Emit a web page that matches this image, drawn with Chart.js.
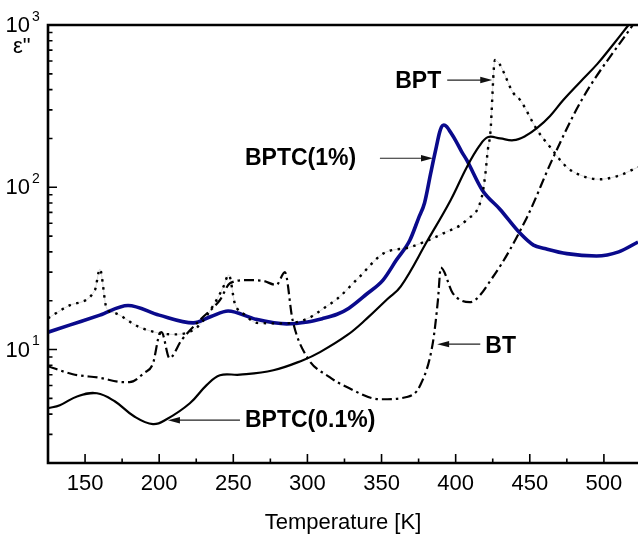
<!DOCTYPE html>
<html>
<head>
<meta charset="utf-8">
<script src="https://cdn.jsdelivr.net/npm/chart.js@4/dist/chart.umd.min.js"></script>
<style>
  html, body { margin: 0; padding: 0; background: #fff; overflow: hidden; }
  #wrap { width: 638px; height: 537px; }
</style>
</head>
<body>
<div id="wrap"><canvas id="epsChart" width="638" height="537"></canvas></div>
<script>
// --- data (temperature in K, eps'' on log scale) ---
const bptc1T   = [125, 140, 160, 179, 200, 223, 235, 246.5, 265, 286, 300, 310, 320, 328, 340, 351, 360, 369, 375, 379, 383, 385, 387, 389, 390.5, 392, 394, 397, 400, 404, 407.5, 418, 430, 443.5, 452.5, 460, 475, 495, 510, 523];
const bptc1Eps = [12.8, 14.2, 16.3, 18.7, 16.3, 14.6, 16, 17.3, 15.4, 14.4, 14.8, 15.5, 16.5, 18, 22, 26.8, 35.6, 47, 64.6, 80, 120, 147, 178, 215, 236, 242, 236, 215, 194, 166, 147, 96, 73, 52, 44, 42, 39, 37.7, 40, 46];

const bptc01T   = [125, 133, 145, 158, 170, 183, 195.8, 205, 220.7, 232, 241, 254.5, 277, 297, 308.5, 327, 340, 354, 363, 381, 396.5, 407.5, 416, 422, 430, 439, 447, 455, 463.7, 472.6, 484, 495.6, 506, 516.6];
const bptc01Eps = [4.35, 4.54, 5.16, 5.38, 4.8, 3.88, 3.47, 3.72, 4.67, 6.04, 6.95, 7.0, 7.46, 8.6, 9.64, 12.3, 15.5, 20.5, 24.5, 47, 83, 133, 180, 204, 200, 195, 207, 232, 275, 345, 446, 576, 753, 1000];

const bptT   = [125, 140, 156.6, 160, 164.5, 170, 187, 209, 225.5, 237, 243, 247, 251, 258, 266, 285, 300, 313, 320, 335, 351, 369.4, 391.6, 407.5, 417.6, 420, 421.7, 423.4, 426.5, 439, 443.5, 455, 463.7, 475, 485, 497, 510, 523];
const bptEps = [15.6, 18.8, 23.2, 31.3, 18, 16.8, 13.7, 12.4, 13.7, 19, 24, 28.8, 19.3, 16.3, 14.6, 14.5, 15.5, 18.5, 20.5, 28, 39, 42.8, 52, 63, 87, 120, 170, 216, 608, 380, 345, 225, 177, 133, 118, 112, 118, 133];

const btT   = [125, 141.7, 160, 175.5, 180, 190, 195.8, 200.4, 201.6, 207, 215, 227.5, 241, 247.7, 259, 270, 279, 284.8, 290, 299.7, 315, 326.6, 349, 367, 376, 384.6, 388, 390, 398, 409.5, 425, 448, 465, 485, 519.5];
const btEps = [7.9, 7.05, 6.7, 6.3, 6.3, 7.2, 8.2, 12.6, 12.8, 8.85, 11.4, 15.2, 20.2, 25.6, 26.8, 26.5, 25, 30, 15.2, 9, 6.76, 5.87, 4.94, 5.1, 6.0, 11, 20, 32, 22.3, 19.6, 27.9, 65, 147, 345, 1000];

const xTickLabels = [150, 200, 250, 300, 350, 400, 450, 500];
const xMinorTicks = [175, 225, 275, 325, 375, 425, 475];
const yDecades = [1, 2, 3];

// annotation texts with anchor (T, eps) and arrow from/to (T)
const notes = [
    { text: 'BPT',        T: 359.2, eps: 446,   arrowFrom: 394.3, arrowTo: 424.7, arrowEps: 458 },
    { text: 'BPTC(1%)',   T: 257.9, eps: 151,   arrowFrom: 348.9, arrowTo: 384.7, arrowEps: 151 },
    { text: 'BT',         T: 420,   eps: 10.35, arrowFrom: 416.6, arrowTo: 387.5, arrowEps: 10.8 },
    { text: 'BPTC(0.1%)', T: 257.9, eps: 3.67,  arrowFrom: 254.5, arrowTo: 205.9, arrowEps: 3.67 }
];

const FONT = '"Liberation Sans", Arial, Helvetica, sans-serif';
const NAVY = '#0a0a8c';

function toPoints(xs, ys) {
    return xs.map((x, i) => ({ x: x, y: ys[i] }));
}

// --- cadre, graduations, etiquettes y et annotations ---
const framePlugin = {
    id: 'frame',
    afterDatasetsDraw(chart) {
        const ctx = chart.ctx;
        const ca = chart.chartArea;
        const xs = chart.scales.x;
        const ys = chart.scales.y;
        ctx.save();
        ctx.strokeStyle = '#000';

        // tick marks pointing inward
        ctx.lineWidth = 1.6;
        ctx.beginPath();
        xTickLabels.forEach(v => {
            const px = xs.getPixelForValue(v);
            ctx.moveTo(px, ca.bottom); ctx.lineTo(px, ca.bottom - 9);
        });
        xMinorTicks.forEach(v => {
            const px = xs.getPixelForValue(v);
            ctx.moveTo(px, ca.bottom); ctx.lineTo(px, ca.bottom - 4.5);
        });
        yDecades.forEach(d => {
            const base = Math.pow(10, d - 1);
            for (let m = 1; m <= 10; m++) {
                const v = base * m;
                if (v < ys.min || v > ys.max) continue;
                const py = ys.getPixelForValue(v);
                const len = (m === 10) ? 9 : 4.5;
                ctx.moveTo(ca.left, py); ctx.lineTo(ca.left + len, py);
            }
        });
        ctx.stroke();

        // axis lines
        ctx.lineWidth = 2.6;
        ctx.beginPath();
        ctx.moveTo(ca.right + 2, ca.top);
        ctx.lineTo(ca.left, ca.top);
        ctx.lineTo(ca.left, ca.bottom);
        ctx.lineTo(ca.right + 2, ca.bottom);
        ctx.stroke();

        // y labels 10^n
        ctx.fillStyle = '#000';
        ctx.textBaseline = 'middle';
        yDecades.forEach(d => {
            const py = ys.getPixelForValue(Math.pow(10, d));
            ctx.font = '22px ' + FONT;
            ctx.textAlign = 'right';
            ctx.fillText('10', ca.left - 18, py + 1);
            ctx.font = '14px ' + FONT;
            ctx.textAlign = 'left';
            ctx.fillText(String(d), ca.left - 16, py - 8);
        });
        ctx.font = '22px ' + FONT;
        ctx.textAlign = 'left';
        ctx.fillText('\u03b5"', ca.left - 35, ys.getPixelForValue(1000) + 22);

        // annotations with arrows
        notes.forEach(n => {
            ctx.font = 'bold 23px ' + FONT;
            ctx.textAlign = 'left';
            ctx.textBaseline = 'middle';
            ctx.fillText(n.text, xs.getPixelForValue(n.T), ys.getPixelForValue(n.eps));

            const x1 = xs.getPixelForValue(n.arrowFrom);
            const x2 = xs.getPixelForValue(n.arrowTo);
            const ay = ys.getPixelForValue(n.arrowEps);
            const dir = Math.sign(x2 - x1);
            ctx.strokeStyle = '#222';
            ctx.lineWidth = 1.2;
            ctx.beginPath();
            ctx.moveTo(x1, ay); ctx.lineTo(x2 - dir * 10, ay);
            ctx.stroke();
            ctx.fillStyle = '#111';
            ctx.beginPath();
            ctx.moveTo(x2, ay);
            ctx.lineTo(x2 - dir * 12, ay - 3.2);
            ctx.lineTo(x2 - dir * 12, ay + 3.2);
            ctx.closePath();
            ctx.fill();
            ctx.fillStyle = '#000';
        });
        ctx.restore();
    }
};

const canvas = document.getElementById('epsChart');
new Chart(canvas.getContext('2d'), {
    type: 'line',
    data: {
        datasets: [
            {
                // faint trace under the dots, as in the scan
                label: 'BPT trace',
                data: toPoints(bptT, bptEps),
                borderColor: 'rgba(0,0,0,0.15)',
                borderWidth: 1,
                cubicInterpolationMode: 'monotone',
                pointRadius: 0,
                fill: false
            },
            {
                label: 'BPT',
                data: toPoints(bptT, bptEps),
                borderColor: '#000',
                borderWidth: 2.4,
                borderDash: [2.5, 5.5],
                cubicInterpolationMode: 'monotone',
                pointRadius: 0,
                fill: false
            },
            {
                label: 'BT',
                data: toPoints(btT, btEps),
                borderColor: '#000',
                borderWidth: 2.2,
                borderDash: [10, 4, 2.5, 4],
                cubicInterpolationMode: 'monotone',
                pointRadius: 0,
                fill: false
            },
            {
                label: 'BPTC(0.1%)',
                data: toPoints(bptc01T, bptc01Eps),
                borderColor: '#000',
                borderWidth: 2.2,
                tension: 0.4,
                pointRadius: 0,
                fill: false
            },
            {
                label: 'BPTC(1%)',
                data: toPoints(bptc1T, bptc1Eps),
                borderColor: NAVY,
                borderWidth: 3.6,
                cubicInterpolationMode: 'monotone',
                pointRadius: 0,
                fill: false
            }
        ]
    },
    options: {
        responsive: false,
        animation: false,
        devicePixelRatio: 1,
        layout: { padding: { top: 25, right: 0, left: 0, bottom: 0 } },
        plugins: { legend: { display: false }, tooltip: { enabled: false } },
        scales: {
            x: {
                type: 'linear',
                min: 125,
                max: 523,
                grid: { display: false, drawTicks: false },
                border: { display: false },
                afterBuildTicks: s => { s.ticks = xTickLabels.map(v => ({ value: v })); },
                afterFit: s => { s.height = 74; },
                ticks: {
                    autoSkip: false,
                    maxRotation: 0,
                    padding: 8,
                    color: '#000',
                    font: { family: FONT, size: 22 }
                },
                title: {
                    display: true,
                    text: 'Temperature [K]',
                    color: '#000',
                    font: { family: FONT, size: 22 },
                    padding: { top: 0, bottom: 1 }
                }
            },
            y: {
                type: 'logarithmic',
                min: 2,
                max: 1000,
                grid: { display: false, drawTicks: false },
                border: { display: false },
                ticks: { display: false },
                afterFit: s => { s.width = 48; }
            }
        }
    },
    plugins: [framePlugin]
});
</script>
</body>
</html>
